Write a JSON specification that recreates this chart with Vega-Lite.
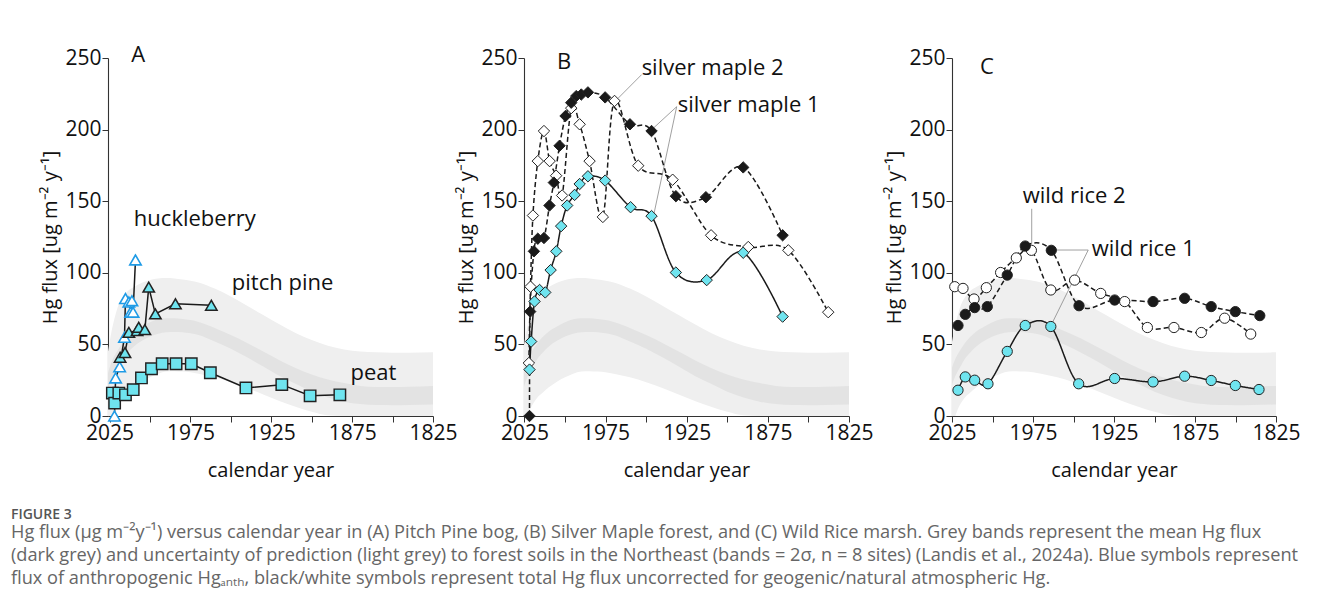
{
  "$schema": "https://vega.github.io/schema/vega-lite/v6.json",
  "padding": {"left": 10, "top": 43, "right": 5, "bottom": 5},
  "background": "white",
  "config": {
    "view": {"stroke": null},
    "font": "Open Sans",
    "axis": {"grid": false, "domainColor": "#333", "tickColor": "#333", "domainWidth": 1.1, "tickWidth": 1, "tickSize": 6, "labelColor": "#111", "titleColor": "#111", "labelFont": "Open Sans", "titleFont": "Open Sans", "labelFontSize": 21, "titleFontSize": 20, "titleFontWeight": "normal", "labelFlush": false, "labelBound": false},
    "axisX": {"labelOverlap": false, "labelPadding": 0, "titlePadding": 17},
    "axisY": {"tickCount": 5, "labelPadding": 1, "titlePadding": 4},
    "text": {"font": "Open Sans", "fontSize": 22, "color": "#111", "align": "left", "baseline": "middle"}
  },
  "title": {
    "text": "FIGURE 3",
    "subtitle": [
      "Hg flux (μg m⁻²y⁻¹) versus calendar year in (A) Pitch Pine bog, (B) Silver Maple forest, and (C) Wild Rice marsh. Grey bands represent the mean Hg flux",
      "(dark grey) and uncertainty of prediction (light grey) to forest soils in the Northeast (bands = 2σ, n = 8 sites) (Landis et al., 2024a). Blue symbols represent",
      "flux of anthropogenic Hgₐₙₜₕ, black/white symbols represent total Hg flux uncorrected for geogenic/natural atmospheric Hg."
    ],
    "orient": "bottom", "anchor": "start", "frame": "bounds", "offset": 28, "dx": -30,
    "font": "Open Sans", "fontSize": 14, "fontWeight": 600, "color": "#555",
    "subtitleFont": "Open Sans", "subtitleFontSize": 18.2, "subtitleColor": "#666", "subtitleLineHeight": 23, "subtitlePadding": 2
  },
  "datasets": {
    "band": [
      {"year": 2026, "lo": -15, "hi": 45, "dlo": 18, "dhi": 30},
      {"year": 2024, "lo": -4, "hi": 58, "dlo": 25, "dhi": 37},
      {"year": 2022, "lo": 3, "hi": 68, "dlo": 30, "dhi": 42},
      {"year": 2020, "lo": 8, "hi": 76, "dlo": 34, "dhi": 46},
      {"year": 2017, "lo": 13, "hi": 83, "dlo": 40, "dhi": 51},
      {"year": 2014, "lo": 16, "hi": 87, "dlo": 44, "dhi": 55},
      {"year": 2010, "lo": 20, "hi": 90, "dlo": 48.5, "dhi": 59},
      {"year": 2005, "lo": 24, "hi": 93, "dlo": 52.5, "dhi": 62.5},
      {"year": 2000, "lo": 27, "hi": 95, "dlo": 55.5, "dhi": 65.5},
      {"year": 1995, "lo": 29.5, "hi": 96, "dlo": 57.5, "dhi": 67.5},
      {"year": 1990, "lo": 31, "hi": 96.3, "dlo": 58.5, "dhi": 68.3},
      {"year": 1985, "lo": 31.3, "hi": 96, "dlo": 58.7, "dhi": 68.3},
      {"year": 1980, "lo": 31, "hi": 95.3, "dlo": 58.5, "dhi": 67.8},
      {"year": 1975, "lo": 30.5, "hi": 94.5, "dlo": 57.8, "dhi": 67},
      {"year": 1970, "lo": 29.5, "hi": 93.3, "dlo": 56.5, "dhi": 65.7},
      {"year": 1960, "lo": 27, "hi": 89, "dlo": 52, "dhi": 61.5},
      {"year": 1950, "lo": 23.5, "hi": 83.5, "dlo": 47, "dhi": 56.5},
      {"year": 1940, "lo": 19.5, "hi": 77, "dlo": 41, "dhi": 51},
      {"year": 1930, "lo": 15, "hi": 70.5, "dlo": 34.5, "dhi": 45},
      {"year": 1920, "lo": 10.5, "hi": 64, "dlo": 28, "dhi": 39},
      {"year": 1910, "lo": 6.5, "hi": 58, "dlo": 22.5, "dhi": 33.5},
      {"year": 1900, "lo": 3, "hi": 53, "dlo": 17, "dhi": 29},
      {"year": 1890, "lo": 0.5, "hi": 49, "dlo": 13, "dhi": 25.5},
      {"year": 1880, "lo": 0, "hi": 46.5, "dlo": 10, "dhi": 23},
      {"year": 1870, "lo": 0, "hi": 45, "dlo": 8.3, "dhi": 21},
      {"year": 1860, "lo": 0, "hi": 44.5, "dlo": 7.6, "dhi": 20.3},
      {"year": 1850, "lo": 0, "hi": 44.2, "dlo": 7.5, "dhi": 20.3},
      {"year": 1840, "lo": 0, "hi": 44.2, "dlo": 7.7, "dhi": 20.5},
      {"year": 1825, "lo": 0, "hi": 44.5, "dlo": 8, "dhi": 21}
    ],
    "pts": [
      {"p": "A", "s": "huckleberry", "year": 2022.0, "v": 0},
      {"p": "A", "s": "huckleberry", "year": 2021.3, "v": 26.6},
      {"p": "A", "s": "huckleberry", "year": 2018.8, "v": 34.4},
      {"p": "A", "s": "huckleberry", "year": 2015.8, "v": 55},
      {"p": "A", "s": "huckleberry", "year": 2015.2, "v": 82},
      {"p": "A", "s": "huckleberry", "year": 2013.1, "v": 79.6},
      {"p": "A", "s": "huckleberry", "year": 2012.0, "v": 72.5},
      {"p": "A", "s": "huckleberry", "year": 2011.2, "v": 80.5},
      {"p": "A", "s": "huckleberry", "year": 2010.5, "v": 72.5},
      {"p": "A", "s": "huckleberry", "year": 2009.0, "v": 109},
      {"p": "A", "s": "pitch pine", "year": 2018.5, "v": 41},
      {"p": "A", "s": "pitch pine", "year": 2015.5, "v": 44.3},
      {"p": "A", "s": "pitch pine", "year": 2013.1, "v": 58.4},
      {"p": "A", "s": "pitch pine", "year": 2008.0, "v": 59.6},
      {"p": "A", "s": "pitch pine", "year": 2007.0, "v": 62},
      {"p": "A", "s": "pitch pine", "year": 2003.2, "v": 60.3},
      {"p": "A", "s": "pitch pine", "year": 2000.8, "v": 90},
      {"p": "A", "s": "pitch pine", "year": 1996.7, "v": 71.3},
      {"p": "A", "s": "pitch pine", "year": 1984.3, "v": 78.4},
      {"p": "A", "s": "pitch pine", "year": 1962.1, "v": 77.3},
      {"p": "A", "s": "peat", "year": 2023.3, "v": 16},
      {"p": "A", "s": "peat", "year": 2021.9, "v": 9},
      {"p": "A", "s": "peat", "year": 2019.3, "v": 16},
      {"p": "A", "s": "peat", "year": 2015.2, "v": 14.8},
      {"p": "A", "s": "peat", "year": 2010.4, "v": 18.4},
      {"p": "A", "s": "peat", "year": 2005.3, "v": 26.6},
      {"p": "A", "s": "peat", "year": 1999.1, "v": 33},
      {"p": "A", "s": "peat", "year": 1992.5, "v": 36.5},
      {"p": "A", "s": "peat", "year": 1983.9, "v": 36.5},
      {"p": "A", "s": "peat", "year": 1974.5, "v": 36.5},
      {"p": "A", "s": "peat", "year": 1962.7, "v": 30.2},
      {"p": "A", "s": "peat", "year": 1940.7, "v": 19.6},
      {"p": "A", "s": "peat", "year": 1918.5, "v": 21.9},
      {"p": "A", "s": "peat", "year": 1901.0, "v": 14.1},
      {"p": "A", "s": "peat", "year": 1882.6, "v": 14.8},
      {"p": "B", "s": "silver maple 2", "year": 2022.3, "v": 37},
      {"p": "B", "s": "silver maple 2", "year": 2021.3, "v": 90.3},
      {"p": "B", "s": "silver maple 2", "year": 2019.8, "v": 140},
      {"p": "B", "s": "silver maple 2", "year": 2016.8, "v": 178},
      {"p": "B", "s": "silver maple 2", "year": 2013.0, "v": 199},
      {"p": "B", "s": "silver maple 2", "year": 2009.5, "v": 178},
      {"p": "B", "s": "silver maple 2", "year": 2005.5, "v": 167.8},
      {"p": "B", "s": "silver maple 2", "year": 2001.8, "v": 154},
      {"p": "B", "s": "silver maple 2", "year": 1996.2, "v": 215},
      {"p": "B", "s": "silver maple 2", "year": 1991.0, "v": 203.7},
      {"p": "B", "s": "silver maple 2", "year": 1984.9, "v": 178},
      {"p": "B", "s": "silver maple 2", "year": 1976.7, "v": 139},
      {"p": "B", "s": "silver maple 2", "year": 1969.5, "v": 220},
      {"p": "B", "s": "silver maple 2", "year": 1954.9, "v": 174.8},
      {"p": "B", "s": "silver maple 2", "year": 1933.7, "v": 165},
      {"p": "B", "s": "silver maple 2", "year": 1910.0, "v": 126.2},
      {"p": "B", "s": "silver maple 2", "year": 1887.1, "v": 118},
      {"p": "B", "s": "silver maple 2", "year": 1862.4, "v": 115.7},
      {"p": "B", "s": "silver maple 2", "year": 1837.8, "v": 72.5},
      {"p": "B", "s": "silver maple 1", "year": 2021.9, "v": 0},
      {"p": "B", "s": "silver maple 1", "year": 2021.5, "v": 72.9},
      {"p": "B", "s": "silver maple 1", "year": 2019.2, "v": 115},
      {"p": "B", "s": "silver maple 1", "year": 2016.8, "v": 123.8},
      {"p": "B", "s": "silver maple 1", "year": 2013.0, "v": 124.3},
      {"p": "B", "s": "silver maple 1", "year": 2009.6, "v": 147},
      {"p": "B", "s": "silver maple 1", "year": 2006.9, "v": 163},
      {"p": "B", "s": "silver maple 1", "year": 2003.4, "v": 188.7},
      {"p": "B", "s": "silver maple 1", "year": 1999.7, "v": 209.5},
      {"p": "B", "s": "silver maple 1", "year": 1996.2, "v": 218.8},
      {"p": "B", "s": "silver maple 1", "year": 1993.1, "v": 223.4},
      {"p": "B", "s": "silver maple 1", "year": 1990.0, "v": 224.5},
      {"p": "B", "s": "silver maple 1", "year": 1985.9, "v": 226},
      {"p": "B", "s": "silver maple 1", "year": 1975.3, "v": 222.5},
      {"p": "B", "s": "silver maple 1", "year": 1960.0, "v": 203.7},
      {"p": "B", "s": "silver maple 1", "year": 1946.7, "v": 199},
      {"p": "B", "s": "silver maple 1", "year": 1931.7, "v": 153.5},
      {"p": "B", "s": "silver maple 1", "year": 1913.2, "v": 152.8},
      {"p": "B", "s": "silver maple 1", "year": 1890.2, "v": 173.6},
      {"p": "B", "s": "silver maple 1", "year": 1865.9, "v": 126.2},
      {"p": "B", "s": "silver maple 1 anth", "year": 2021.9, "v": 32.4},
      {"p": "B", "s": "silver maple 1 anth", "year": 2020.9, "v": 52},
      {"p": "B", "s": "silver maple 1 anth", "year": 2018.8, "v": 80},
      {"p": "B", "s": "silver maple 1 anth", "year": 2015.7, "v": 88},
      {"p": "B", "s": "silver maple 1 anth", "year": 2012.2, "v": 86.3},
      {"p": "B", "s": "silver maple 1 anth", "year": 2008.9, "v": 101.9},
      {"p": "B", "s": "silver maple 1 anth", "year": 2005.4, "v": 115},
      {"p": "B", "s": "silver maple 1 anth", "year": 2002.4, "v": 132.6},
      {"p": "B", "s": "silver maple 1 anth", "year": 1998.7, "v": 147},
      {"p": "B", "s": "silver maple 1 anth", "year": 1994.1, "v": 154.4},
      {"p": "B", "s": "silver maple 1 anth", "year": 1991.0, "v": 162},
      {"p": "B", "s": "silver maple 1 anth", "year": 1985.9, "v": 167.4},
      {"p": "B", "s": "silver maple 1 anth", "year": 1975.3, "v": 164.4},
      {"p": "B", "s": "silver maple 1 anth", "year": 1959.6, "v": 145.8},
      {"p": "B", "s": "silver maple 1 anth", "year": 1946.7, "v": 139.6},
      {"p": "B", "s": "silver maple 1 anth", "year": 1931.7, "v": 100.2},
      {"p": "B", "s": "silver maple 1 anth", "year": 1912.7, "v": 94.9},
      {"p": "B", "s": "silver maple 1 anth", "year": 1890.2, "v": 114},
      {"p": "B", "s": "silver maple 1 anth", "year": 1865.9, "v": 69.4},
      {"p": "C", "s": "wild rice 2", "year": 2023.3, "v": 90.3},
      {"p": "C", "s": "wild rice 2", "year": 2018.2, "v": 89.1},
      {"p": "C", "s": "wild rice 2", "year": 2011.4, "v": 81.7},
      {"p": "C", "s": "wild rice 2", "year": 2003.8, "v": 89.6},
      {"p": "C", "s": "wild rice 2", "year": 1995.0, "v": 100.2},
      {"p": "C", "s": "wild rice 2", "year": 1985.3, "v": 110.4},
      {"p": "C", "s": "wild rice 2", "year": 1976.0, "v": 115.7},
      {"p": "C", "s": "wild rice 2", "year": 1964.0, "v": 88},
      {"p": "C", "s": "wild rice 2", "year": 1949.3, "v": 94.9},
      {"p": "C", "s": "wild rice 2", "year": 1933.2, "v": 85.6},
      {"p": "C", "s": "wild rice 2", "year": 1918.4, "v": 79.9},
      {"p": "C", "s": "wild rice 2", "year": 1904.4, "v": 61.8},
      {"p": "C", "s": "wild rice 2", "year": 1888.0, "v": 61.8},
      {"p": "C", "s": "wild rice 2", "year": 1871.1, "v": 58.3},
      {"p": "C", "s": "wild rice 2", "year": 1856.7, "v": 68.3},
      {"p": "C", "s": "wild rice 2", "year": 1840.6, "v": 57.2},
      {"p": "C", "s": "wild rice 1", "year": 2021.3, "v": 63.2},
      {"p": "C", "s": "wild rice 1", "year": 2016.8, "v": 71},
      {"p": "C", "s": "wild rice 1", "year": 2011.0, "v": 75.7},
      {"p": "C", "s": "wild rice 1", "year": 2003.2, "v": 76.4},
      {"p": "C", "s": "wild rice 1", "year": 1990.9, "v": 98.4},
      {"p": "C", "s": "wild rice 1", "year": 1979.8, "v": 118.7},
      {"p": "C", "s": "wild rice 1", "year": 1963.7, "v": 115.7},
      {"p": "C", "s": "wild rice 1", "year": 1946.6, "v": 77},
      {"p": "C", "s": "wild rice 1", "year": 1924.6, "v": 81},
      {"p": "C", "s": "wild rice 1", "year": 1900.9, "v": 79.9},
      {"p": "C", "s": "wild rice 1", "year": 1881.4, "v": 82.2},
      {"p": "C", "s": "wild rice 1", "year": 1865.0, "v": 76.4},
      {"p": "C", "s": "wild rice 1", "year": 1850.1, "v": 72.9},
      {"p": "C", "s": "wild rice 1", "year": 1835.0, "v": 70.1},
      {"p": "C", "s": "wild rice 1 anth", "year": 2021.3, "v": 18},
      {"p": "C", "s": "wild rice 1 anth", "year": 2016.8, "v": 27.3},
      {"p": "C", "s": "wild rice 1 anth", "year": 2011.0, "v": 25},
      {"p": "C", "s": "wild rice 1 anth", "year": 2002.8, "v": 22.5},
      {"p": "C", "s": "wild rice 1 anth", "year": 1990.9, "v": 45.1},
      {"p": "C", "s": "wild rice 1 anth", "year": 1979.8, "v": 63.2},
      {"p": "C", "s": "wild rice 1 anth", "year": 1964.0, "v": 62.5},
      {"p": "C", "s": "wild rice 1 anth", "year": 1946.8, "v": 22.5},
      {"p": "C", "s": "wild rice 1 anth", "year": 1924.6, "v": 26.2},
      {"p": "C", "s": "wild rice 1 anth", "year": 1900.9, "v": 23.8},
      {"p": "C", "s": "wild rice 1 anth", "year": 1881.4, "v": 27.8},
      {"p": "C", "s": "wild rice 1 anth", "year": 1865.0, "v": 24.8},
      {"p": "C", "s": "wild rice 1 anth", "year": 1850.1, "v": 21.3},
      {"p": "C", "s": "wild rice 1 anth", "year": 1835.5, "v": 18.5}
    ],
    "labels": [
      {"p": "A", "t": "A", "year": 2011.6, "v": 252.4},
      {"p": "A", "t": "huckleberry", "year": 2010.0, "v": 137.3},
      {"p": "A", "t": "pitch pine", "year": 1949.4, "v": 93.2},
      {"p": "A", "t": "peat", "year": 1876.0, "v": 30.2},
      {"p": "B", "t": "B", "year": 2004.9, "v": 247},
      {"p": "B", "t": "silver maple 2", "year": 1952.8, "v": 243},
      {"p": "B", "t": "silver maple 1", "year": 1930.6, "v": 216.9},
      {"p": "C", "t": "C", "year": 2007.7, "v": 243.7},
      {"p": "C", "t": "wild rice 2", "year": 1981.4, "v": 153.3},
      {"p": "C", "t": "wild rice 1", "year": 1938.8, "v": 116.9}
    ],
    "leaders": [
      {"p": "B", "year": 1967.2, "v": 222, "year2": 1952.8, "v2": 238.4},
      {"p": "B", "year": 1931.2, "v": 216, "year2": 1945.2, "v2": 201.4},
      {"p": "B", "year": 1931.2, "v": 216, "year2": 1945.2, "v2": 141.2},
      {"p": "C", "year": 1975.8, "v": 144.7, "year2": 1975.8, "v2": 120.4},
      {"p": "C", "year": 1940.9, "v": 115.9, "year2": 1961.4, "v2": 115.9},
      {"p": "C", "year": 1940.9, "v": 115.9, "year2": 1964.5, "v2": 61.8}
    ]
  },
  "spacing": 91,
  "bounds": "flush",
  "hconcat": [
    {
      "width": 325, "height": 358,
      "encoding": {"x": {"field": "year", "type": "quantitative", "scale": {"domain": [2026, 1825], "nice": false, "zero": false}, "title": "calendar year",
        "axis": {"values": [2025, 2000, 1975, 1950, 1925, 1900, 1875, 1850, 1825], "format": "d", "labelExpr": "datum.value % 50 == 25 ? datum.label : ''"}}},
      "layer": [
        {"data": {"name": "band"}, "mark": {"type": "area", "color": "#efefef", "interpolate": "monotone", "clip": true},
         "encoding": {"y": {"field": "lo", "type": "quantitative", "scale": {"domain": [0, 250], "nice": false}, "title": "Hg flux [ug m⁻² y⁻¹]"}, "y2": {"field": "hi"}}},
        {"data": {"name": "band"}, "mark": {"type": "area", "color": "#e3e3e3", "interpolate": "monotone", "clip": true},
         "encoding": {"y": {"field": "dlo", "type": "quantitative", "scale": {"domain": [0, 250], "nice": false}, "title": "Hg flux [ug m⁻² y⁻¹]"}, "y2": {"field": "dhi"}}},
        {"data": {"name": "pts"}, "transform": [{"filter": "datum.p == 'A'"}], "mark": {"type": "line", "color": "#1a1a1a", "strokeWidth": 1.5, "interpolate": "linear"},
         "encoding": {"y": {"field": "v", "type": "quantitative", "scale": {"domain": [0, 250], "nice": false}, "title": "Hg flux [ug m⁻² y⁻¹]"}, "detail": {"field": "s"}}},
        {"data": {"name": "pts"}, "transform": [{"filter": "datum.p == 'A'"}], "mark": {"type": "point", "filled": true, "opacity": 1, "size": 130},
         "encoding": {"y": {"field": "v", "type": "quantitative", "scale": {"domain": [0, 250], "nice": false}, "title": "Hg flux [ug m⁻² y⁻¹]"},
           "shape": {"field": "s", "type": "nominal", "scale": {"domain": ["huckleberry", "pitch pine", "peat", "silver maple 2", "silver maple 1", "silver maple 1 anth", "wild rice 2", "wild rice 1", "wild rice 1 anth"], "range": ["triangle-up", "triangle-up", "square", "diamond", "diamond", "diamond", "circle", "circle", "circle"]}, "legend": null},
           "fill": {"field": "s", "type": "nominal", "scale": {"domain": ["huckleberry", "pitch pine", "peat", "silver maple 2", "silver maple 1", "silver maple 1 anth", "wild rice 2", "wild rice 1", "wild rice 1 anth"], "range": ["#ffffff", "#6fe4ef", "#6fe4ef", "#ffffff", "#1a1a1a", "#6fe4ef", "#ffffff", "#1a1a1a", "#6fe4ef"]}, "legend": null},
           "stroke": {"field": "s", "type": "nominal", "scale": {"domain": ["huckleberry", "pitch pine", "peat", "silver maple 2", "silver maple 1", "silver maple 1 anth", "wild rice 2", "wild rice 1", "wild rice 1 anth"], "range": ["#1f9be6", "#222222", "#222222", "#222222", "#222222", "#222222", "#222222", "#222222", "#222222"]}, "legend": null},
           "strokeWidth": {"field": "s", "type": "nominal", "scale": {"domain": ["huckleberry", "pitch pine", "peat", "silver maple 2", "silver maple 1", "silver maple 1 anth", "wild rice 2", "wild rice 1", "wild rice 1 anth"], "range": [1.6, 1, 1, 1, 1, 1, 1, 1, 1]}, "legend": null}}},
        {"data": {"name": "labels"}, "transform": [{"filter": "datum.p == 'A'"}], "mark": {"type": "text"},
         "encoding": {"y": {"field": "v", "type": "quantitative", "scale": {"domain": [0, 250], "nice": false}, "title": "Hg flux [ug m⁻² y⁻¹]"}, "text": {"field": "t"}}}
      ]
    },
    {
      "spacing": 103,
      "bounds": "flush",
      "hconcat": [
        {
          "width": 325, "height": 358,
          "encoding": {"x": {"field": "year", "type": "quantitative", "scale": {"domain": [2025.3, 1825], "nice": false, "zero": false}, "title": "calendar year",
            "axis": {"values": [2025, 2000, 1975, 1950, 1925, 1900, 1875, 1850, 1825], "format": "d", "labelExpr": "datum.value % 50 == 25 ? datum.label : ''"}}},
          "layer": [
            {"data": {"name": "band"}, "mark": {"type": "area", "color": "#efefef", "interpolate": "monotone", "clip": true},
             "encoding": {"y": {"field": "lo", "type": "quantitative", "scale": {"domain": [0, 250], "nice": false}, "title": "Hg flux [ug m⁻² y⁻¹]"}, "y2": {"field": "hi"}}},
            {"data": {"name": "band"}, "mark": {"type": "area", "color": "#e3e3e3", "interpolate": "monotone", "clip": true},
             "encoding": {"y": {"field": "dlo", "type": "quantitative", "scale": {"domain": [0, 250], "nice": false}, "title": "Hg flux [ug m⁻² y⁻¹]"}, "y2": {"field": "dhi"}}},
            {"data": {"name": "leaders"}, "transform": [{"filter": "datum.p == 'B'"}], "mark": {"type": "rule", "color": "#888888", "strokeWidth": 0.8},
             "encoding": {"y": {"field": "v", "type": "quantitative", "scale": {"domain": [0, 250], "nice": false}, "title": "Hg flux [ug m⁻² y⁻¹]"}, "x2": {"field": "year2"}, "y2": {"field": "v2"}}},
            {"data": {"name": "pts"}, "transform": [{"filter": "datum.p == 'B'"}], "mark": {"type": "line", "color": "#1a1a1a", "strokeWidth": 1.5, "interpolate": "cardinal"},
             "encoding": {"y": {"field": "v", "type": "quantitative", "scale": {"domain": [0, 250], "nice": false}, "title": "Hg flux [ug m⁻² y⁻¹]"}, "detail": {"field": "s"},
               "strokeDash": {"field": "s", "type": "nominal", "scale": {"domain": ["huckleberry", "pitch pine", "peat", "silver maple 2", "silver maple 1", "silver maple 1 anth", "wild rice 2", "wild rice 1", "wild rice 1 anth"], "range": [[1, 0], [1, 0], [1, 0], [5, 3], [5, 3], [1, 0], [5, 3], [5, 3], [1, 0]]}, "legend": null}}},
            {"data": {"name": "pts"}, "transform": [{"filter": "datum.p == 'B'"}], "mark": {"type": "point", "filled": true, "opacity": 1, "size": 130, "shape": "diamond", "strokeWidth": 1, "stroke": "#222222"},
             "encoding": {"y": {"field": "v", "type": "quantitative", "scale": {"domain": [0, 250], "nice": false}, "title": "Hg flux [ug m⁻² y⁻¹]"},
               "fill": {"field": "s", "type": "nominal", "scale": {"domain": ["huckleberry", "pitch pine", "peat", "silver maple 2", "silver maple 1", "silver maple 1 anth", "wild rice 2", "wild rice 1", "wild rice 1 anth"], "range": ["#ffffff", "#6fe4ef", "#6fe4ef", "#ffffff", "#1a1a1a", "#6fe4ef", "#ffffff", "#1a1a1a", "#6fe4ef"]}, "legend": null}}},
            {"data": {"name": "labels"}, "transform": [{"filter": "datum.p == 'B'"}], "mark": {"type": "text"},
             "encoding": {"y": {"field": "v", "type": "quantitative", "scale": {"domain": [0, 250], "nice": false}, "title": "Hg flux [ug m⁻² y⁻¹]"}, "text": {"field": "t"}}}
          ]
        },
        {
          "width": 324, "height": 358,
          "encoding": {"x": {"field": "year", "type": "quantitative", "scale": {"domain": [2025, 1825], "nice": false, "zero": false}, "title": "calendar year",
            "axis": {"values": [2025, 2000, 1975, 1950, 1925, 1900, 1875, 1850, 1825], "format": "d", "labelExpr": "datum.value % 50 == 25 ? datum.label : ''"}}},
          "layer": [
            {"data": {"name": "band"}, "mark": {"type": "area", "color": "#efefef", "interpolate": "monotone", "clip": true},
             "encoding": {"y": {"field": "lo", "type": "quantitative", "scale": {"domain": [0, 250], "nice": false}, "title": "Hg flux [ug m⁻² y⁻¹]"}, "y2": {"field": "hi"}}},
            {"data": {"name": "band"}, "mark": {"type": "area", "color": "#e3e3e3", "interpolate": "monotone", "clip": true},
             "encoding": {"y": {"field": "dlo", "type": "quantitative", "scale": {"domain": [0, 250], "nice": false}, "title": "Hg flux [ug m⁻² y⁻¹]"}, "y2": {"field": "dhi"}}},
            {"data": {"name": "leaders"}, "transform": [{"filter": "datum.p == 'C'"}], "mark": {"type": "rule", "color": "#888888", "strokeWidth": 0.8},
             "encoding": {"y": {"field": "v", "type": "quantitative", "scale": {"domain": [0, 250], "nice": false}, "title": "Hg flux [ug m⁻² y⁻¹]"}, "x2": {"field": "year2"}, "y2": {"field": "v2"}}},
            {"data": {"name": "pts"}, "transform": [{"filter": "datum.p == 'C'"}], "mark": {"type": "line", "color": "#1a1a1a", "strokeWidth": 1.5, "interpolate": "cardinal"},
             "encoding": {"y": {"field": "v", "type": "quantitative", "scale": {"domain": [0, 250], "nice": false}, "title": "Hg flux [ug m⁻² y⁻¹]"}, "detail": {"field": "s"},
               "strokeDash": {"field": "s", "type": "nominal", "scale": {"domain": ["huckleberry", "pitch pine", "peat", "silver maple 2", "silver maple 1", "silver maple 1 anth", "wild rice 2", "wild rice 1", "wild rice 1 anth"], "range": [[1, 0], [1, 0], [1, 0], [5, 3], [5, 3], [1, 0], [5, 3], [5, 3], [1, 0]]}, "legend": null}}},
            {"data": {"name": "pts"}, "transform": [{"filter": "datum.p == 'C'"}], "mark": {"type": "point", "filled": true, "opacity": 1, "size": 105, "shape": "circle", "strokeWidth": 1, "stroke": "#222222"},
             "encoding": {"y": {"field": "v", "type": "quantitative", "scale": {"domain": [0, 250], "nice": false}, "title": "Hg flux [ug m⁻² y⁻¹]"},
               "fill": {"field": "s", "type": "nominal", "scale": {"domain": ["huckleberry", "pitch pine", "peat", "silver maple 2", "silver maple 1", "silver maple 1 anth", "wild rice 2", "wild rice 1", "wild rice 1 anth"], "range": ["#ffffff", "#6fe4ef", "#6fe4ef", "#ffffff", "#1a1a1a", "#6fe4ef", "#ffffff", "#1a1a1a", "#6fe4ef"]}, "legend": null}}},
            {"data": {"name": "labels"}, "transform": [{"filter": "datum.p == 'C'"}], "mark": {"type": "text"},
             "encoding": {"y": {"field": "v", "type": "quantitative", "scale": {"domain": [0, 250], "nice": false}, "title": "Hg flux [ug m⁻² y⁻¹]"}, "text": {"field": "t"}}}
          ]
        }
      ]
    }
  ]
}
